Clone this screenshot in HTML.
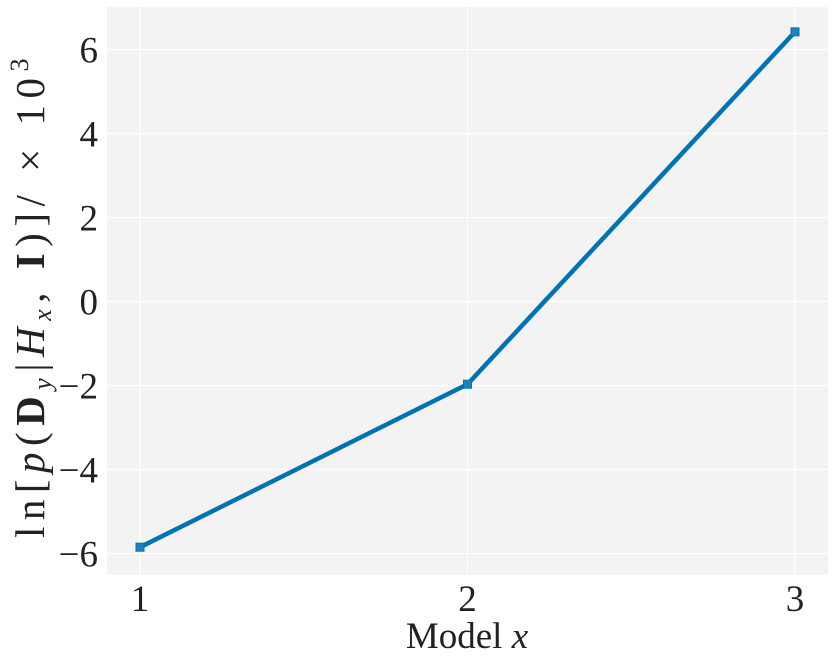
<!DOCTYPE html>
<html><head><meta charset="utf-8"><style>
html,body{margin:0;padding:0;background:#fff;}
svg text{font-family:"Liberation Serif",serif;fill:#222;}
</style></head><body>
<svg id="chart" width="835" height="662" xmlns="http://www.w3.org/2000/svg">
<rect x="107" y="7" width="721" height="568" fill="#f3f3f3"/>
<g id="grid"></g><g id="ticks"></g><g id="series"></g>
<text x="467" y="648" font-size="37" text-anchor="middle">Model <tspan font-style="italic">x</tspan></text>
<text transform="translate(44,295) rotate(-90)" font-size="41" letter-spacing="6.5" text-anchor="middle">ln[<tspan font-style="italic">p</tspan>(<tspan font-weight="bold">D</tspan><tspan font-style="italic" font-size="26" dy="7">y</tspan><tspan dy="-7">|</tspan><tspan font-style="italic">H</tspan><tspan font-style="italic" font-size="26" dy="7">x</tspan><tspan dy="-7">, </tspan><tspan font-weight="bold">I</tspan>)]/ × 10<tspan font-size="26" dy="-16">3</tspan></text>
</svg>
<script>
const categories=[1,2,3];
const values=[-5.85,-1.97,6.42];
const yTicks=[-6,-4,-2,0,2,4,6];
const xTickLabels=["1","2","3"];
const NS="http://www.w3.org/2000/svg";
function xs(v){return 140+(v-1)*327.5;}
function ys(v){return 301.5-v*42;}
function mk(t,a,p){const e=document.createElementNS(NS,t);for(const k in a)e.setAttribute(k,a[k]);p.appendChild(e);return e;}
const grid=document.getElementById('grid'),ticks=document.getElementById('ticks'),ser=document.getElementById('series');
yTicks.forEach(v=>{
 const l=mk('line',{x1:107,x2:828,y1:ys(v),y2:ys(v),stroke:'#fff','stroke-width':1.2},grid);
 
 
 const t=mk('text',{x:98,y:ys(v)+13,'font-size':37,'text-anchor':'end'},ticks);
 t.textContent=(v<0?'\u2212'+(-v):String(v));
 
 
});
categories.forEach((c,i)=>{
 const l=mk('line',{x1:xs(c),x2:xs(c),y1:7,y2:575,stroke:'#fff','stroke-width':1.2},grid);
 
 
 const t=mk('text',{x:xs(c),y:611,'font-size':37,'text-anchor':'middle'},ticks);
 t.textContent=xTickLabels[i];
 
 
});
const pl=mk('polyline',{points:categories.map((c,i)=>xs(c)+','+ys(values[i])).join(' '),fill:'none',stroke:'#0072b2','stroke-width':4.5,'stroke-linejoin':'round'},ser);


categories.forEach((c,i)=>{
 const r=mk('rect',{x:xs(c)-4,y:ys(values[i])-4,width:8,height:8,fill:'#1f80be',stroke:'#0072b2','stroke-width':1},ser);
 
 
});
</script>
</body></html>
